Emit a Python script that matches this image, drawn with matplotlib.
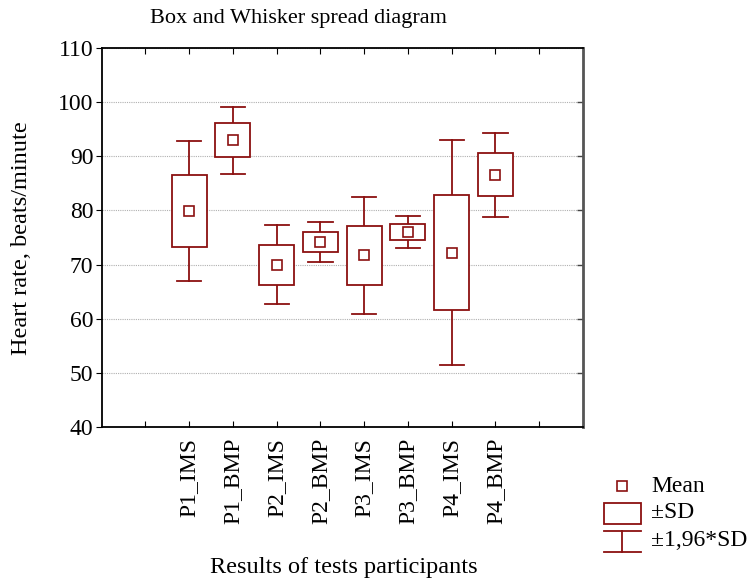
import numpy as np
from matplotlib import pyplot as plt
from matplotlib.patches import Rectangle

plt.rcParams['font.family'] = ['Liberation Serif', 'DejaVu Serif']

# data
groups = ['P1_IMS', 'P1_BMP', 'P2_IMS', 'P2_BMP', 'P3_IMS', 'P3_BMP', 'P4_IMS', 'P4_BMP']
means = [79.9, 93.0, 70.0, 74.2, 71.7, 76.0, 72.2, 86.6]
sds = [6.6, 3.15, 3.7, 1.9, 5.5, 1.5, 10.6, 3.95]
yticks = [40, 50, 60, 70, 80, 90, 100, 110]

col = '#8B1010'
W, H = 751, 583

fig = plt.figure(figsize=(W / 100, H / 100), dpi=100)
ax = fig.add_axes([101.7 / W, 1 - 426.7 / H, (583 - 101.7) / W, (426.7 - 48.3) / H])

pos = np.arange(2, 2 + len(groups))
box_w = 0.8
cap_w = 0.55
for x, m, s in zip(pos, means, sds):
    w = 1.96 * s
    # whiskers
    ax.plot([x, x], [m + s, m + w], color=col, lw=1.3, zorder=3)
    ax.plot([x, x], [m - s, m - w], color=col, lw=1.3, zorder=3)
    ax.plot([x - cap_w / 2, x + cap_w / 2], [m + w, m + w], color=col, lw=1.3, zorder=3)
    ax.plot([x - cap_w / 2, x + cap_w / 2], [m - w, m - w], color=col, lw=1.3, zorder=3)
    # box
    ax.add_patch(Rectangle((x - box_w / 2, m - s), box_w, 2 * s, fill=True,
                           facecolor='white', edgecolor=col, lw=1.3, zorder=3))
    # mean
    ax.plot(x, m, 's', ms=7, mfc='white', mec=col, mew=1.2, zorder=4)

ax.set_xlim(0, 11)
ax.set_ylim(40, 110)
ax.set_xticks(range(1, 11))
ax.set_xticklabels([''] + groups + [''], rotation=90, fontsize=17)
ax.set_yticks(yticks)
ax.set_yticklabels([str(t) for t in yticks], fontsize=17)
ax.tick_params(axis='x', direction='in', top=True, length=4, pad=8)
ax.tick_params(axis='y', direction='out', length=4, pad=2)
ax.yaxis.set_ticks_position('left')
for t in yticks[1:-1]:
    ax.plot([11], [t], marker=0, color='#444444', ms=4, clip_on=False)  # right inward ticks
for sp in ax.spines.values():
    sp.set_linewidth(1.3)
ax.spines['right'].set_color('#555555')
ax.spines['right'].set_linewidth(2)
ax.grid(axis='y', color='#b0b0b0', ls=(0, (1, 1)), lw=0.8)
ax.set_axisbelow(True)

fig.text(298 / W, 1 - 19 / H, 'Box and Whisker spread diagram', ha='center', va='center', fontsize=16)
fig.text(344 / W, 1 - 568 / H, 'Results of tests participants', ha='center', va='center', fontsize=17.5)
fig.text(22 / W, 1 - 238 / H, 'Heart rate, beats/minute', ha='center', va='center',
         rotation=90, fontsize=17.5)

# legend drawn in pixel coordinates
lg = fig.add_axes([0, 0, 1, 1], zorder=-1)
lg.set_xlim(0, W)
lg.set_ylim(H, 0)
lg.axis('off')
lg.plot(622, 486, 's', ms=6.5, mfc='white', mec=col, mew=1.2)
lg.add_patch(Rectangle((604, 503), 37, 21, fill=False, edgecolor=col, lw=1.3))
lg.plot([604, 641], [531, 531], color=col, lw=1.3)
lg.plot([604, 641], [552, 552], color=col, lw=1.3)
lg.plot([622, 622], [531, 552], color=col, lw=1.3)
lg.text(651, 486, 'Mean', va='center', fontsize=17)
lg.text(651, 513, '±SD', va='center', fontsize=17)
lg.text(651, 541, '±1,96*SD', va='center', fontsize=17)

plt.savefig('out.png', dpi=100)
